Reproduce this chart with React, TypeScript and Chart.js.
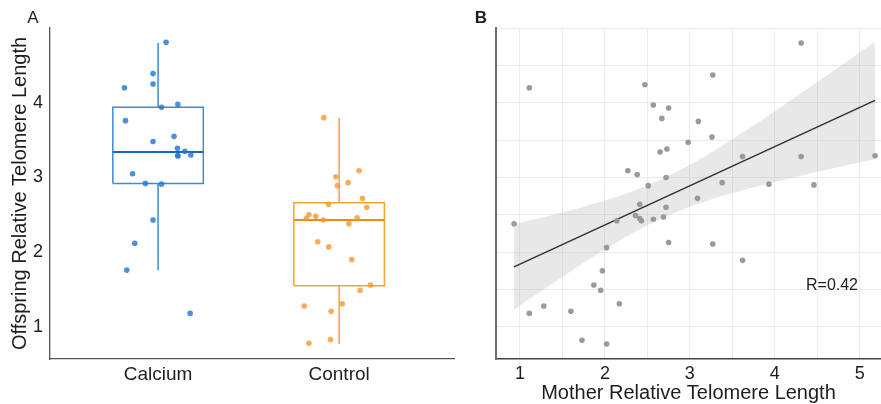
import React, { useEffect, useRef } from 'react';
import { Chart, registerables } from 'chart.js';

Chart.register(...registerables);

// ---------- Panel A data ----------
const GROUP_LABELS = ['Calcium', 'Control'];
const GROUP_POSITIONS = [1, 2];

const CALCIUM_VALUES = [4.81, 4.39, 4.25, 4.2, 3.94, 3.98, 3.76, 3.55, 3.48, 3.39, 3.35, 3.29, 3.29, 3.3, 3.05, 2.92, 2.91, 2.43, 2.12, 1.76, 1.18];
const CALCIUM_JITTER = [0.044, -0.028, -0.028, -0.186, 0.019, 0.109, -0.18, 0.088, -0.028, 0.107, 0.148, 0.109, 0.109, 0.181, -0.141, -0.07, 0.019, -0.028, -0.129, -0.173, 0.177];

const CONTROL_VALUES = [3.8, 3.09, 3.01, 2.93, 2.89, 2.72, 2.64, 2.6, 2.5, 2.48, 2.45, 2.43, 2.46, 2.38, 2.14, 2.07, 1.9, 1.56, 1.49, 1.31, 1.28, 1.21, 0.83, 0.78];
const CONTROL_JITTER = [-0.085, 0.11, -0.018, 0.05, -0.009, 0.129, -0.059, 0.153, -0.167, -0.129, -0.181, -0.087, 0.099, 0.054, -0.118, -0.057, 0.07, 0.173, 0.116, 0.017, -0.193, -0.044, -0.048, -0.167];

const BOX_Q1 = [2.92, 1.55];
const BOX_MEDIAN = [3.34, 2.43];
const BOX_Q3 = [3.94, 2.66];
const WHISKER_LOW = [1.76, 0.77];
const WHISKER_HIGH = [4.8, 3.8];

const Y_TICKS_A = [1, 2, 3, 4];

// ---------- Panel B data ----------
const MOTHER_RTL = [4.31, 3.27, 1.11, 2.47, 2.57, 2.75, 2.67, 3.1, 3.26, 2.98, 2.73, 2.65, 3.62, 4.31, 5.18, 2.27, 2.38, 2.72, 2.51, 3.38, 3.93, 4.46, 3.09, 2.41, 2.72, 2.36, 2.41, 2.43, 2.57, 2.69, 2.14, 0.93, 2.75, 3.27, 2.02, 3.62, 1.97, 1.87, 1.95, 2.17, 1.28, 1.11, 1.6, 1.73, 2.02];
const OFFSPRING_RTL = [4.8, 4.37, 4.2, 4.24, 3.97, 3.93, 3.79, 3.75, 3.54, 3.47, 3.38, 3.34, 3.28, 3.28, 3.29, 3.09, 3.04, 3.0, 2.89, 2.93, 2.91, 2.9, 2.72, 2.64, 2.6, 2.49, 2.45, 2.42, 2.44, 2.47, 2.42, 2.38, 2.13, 2.11, 2.06, 1.89, 1.75, 1.56, 1.49, 1.31, 1.28, 1.18, 1.21, 0.82, 0.77];

const X_TICKS_B = [1, 1.5, 2, 2.5, 3, 3.5, 4, 4.5, 5];
const Y_GRID_B = [1, 1.5, 2, 2.5, 3, 3.5, 4, 4.5, 5];
const R_LABEL = 'R=0.42';

// ---------- styles ----------
const FONT = "'Liberation Sans', Arial, sans-serif";
const TEXT = '#1e1e1e';
const BOX_HALF = 0.25;
const BLUE_PT = 'rgba(38, 120, 210, 0.82)';
const BLUE_BOX = '#3a8ad8';
const BLUE_MED = '#1a66c4';
const ORANGE_PT = 'rgba(246, 152, 48, 0.8)';
const ORANGE_BOX = '#f7a038';
const ORANGE_MED = '#f08a12';

function lineDs(points: { x: number; y: number }[], color: string, width: number) {
  return {
    type: 'line' as const,
    data: points,
    borderColor: color,
    borderWidth: width,
    pointRadius: 0,
    fill: false,
    tension: 0,
  };
}

function boxDatasets(g: number, boxColor: string, medColor: string) {
  const c = GROUP_POSITIONS[g];
  const l = c - BOX_HALF;
  const r = c + BOX_HALF;
  return [
    lineDs([{ x: l, y: BOX_MEDIAN[g] }, { x: r, y: BOX_MEDIAN[g] }], medColor, 2),
    lineDs(
      [
        { x: l, y: BOX_Q1[g] },
        { x: r, y: BOX_Q1[g] },
        { x: r, y: BOX_Q3[g] },
        { x: l, y: BOX_Q3[g] },
        { x: l, y: BOX_Q1[g] },
      ],
      boxColor,
      1.5
    ),
    lineDs([{ x: c, y: BOX_Q3[g] }, { x: c, y: WHISKER_HIGH[g] }], boxColor, 1.5),
    lineDs([{ x: c, y: BOX_Q1[g] }, { x: c, y: WHISKER_LOW[g] }], boxColor, 1.5),
  ];
}

function regression(xs: number[], ys: number[]) {
  const n = xs.length;
  const mx = xs.reduce((a, b) => a + b, 0) / n;
  const my = ys.reduce((a, b) => a + b, 0) / n;
  let sxx = 0;
  let sxy = 0;
  for (let i = 0; i < n; i++) {
    sxx += (xs[i] - mx) ** 2;
    sxy += (xs[i] - mx) * (ys[i] - my);
  }
  const slope = sxy / sxx;
  const intercept = my - slope * mx;
  let sse = 0;
  for (let i = 0; i < n; i++) sse += (ys[i] - (intercept + slope * xs[i])) ** 2;
  const s = Math.sqrt(sse / (n - 2));
  return { slope, intercept, s, mx, sxx, n };
}

export default function App() {
  const refA = useRef<HTMLCanvasElement>(null);
  const refB = useRef<HTMLCanvasElement>(null);

  useEffect(() => {
    const tickFont = { family: FONT, size: 18 };

    const chartA = new Chart(refA.current!, {
      type: 'scatter',
      data: {
        datasets: [
          {
            data: CALCIUM_VALUES.map((v, i) => ({ x: GROUP_POSITIONS[0] + CALCIUM_JITTER[i], y: v })),
            backgroundColor: BLUE_PT,
            borderWidth: 0,
            pointRadius: 2.8,
          },
          {
            data: CONTROL_VALUES.map((v, i) => ({ x: GROUP_POSITIONS[1] + CONTROL_JITTER[i], y: v })),
            backgroundColor: ORANGE_PT,
            borderWidth: 0,
            pointRadius: 2.8,
          },
          ...boxDatasets(0, BLUE_BOX, BLUE_MED),
          ...boxDatasets(1, ORANGE_BOX, ORANGE_MED),
        ] as any,
      },
      options: {
        animation: false,
        responsive: false,
        devicePixelRatio: 1,
        layout: { autoPadding: false, padding: { top: 28, right: 0, bottom: 0, left: 0 } },
        plugins: { legend: { display: false }, tooltip: { enabled: false } },
        scales: {
          x: {
            type: 'linear',
            min: 0.403,
            max: 2.64,
            afterBuildTicks: (s: any) => {
              s.ticks = GROUP_POSITIONS.map((v) => ({ value: v }));
            },
            afterFit: (s: any) => {
              s.height = 45;
            },
            ticks: {
              font: { family: FONT, size: 19 },
              color: TEXT,
              padding: 4,
              maxRotation: 0,
              autoSkip: false,
              callback: (v: any) => {
                const i = GROUP_POSITIONS.indexOf(Number(v));
                return i >= 0 ? GROUP_LABELS[i] : '';
              },
            },
            grid: { display: false, drawTicks: false },
            border: { display: true, color: '#555', width: 1.3 },
          },
          y: {
            type: 'linear',
            min: 0.57,
            max: 5.0,
            afterBuildTicks: (s: any) => {
              s.ticks = Y_TICKS_A.map((v) => ({ value: v }));
            },
            afterFit: (s: any) => {
              s.width = 50;
            },
            ticks: { font: tickFont, color: TEXT, padding: 7 },
            grid: { display: false, drawTicks: false },
            border: { display: true, color: '#555', width: 1.3 },
            title: {
              display: true,
              text: 'Offspring Relative Telomere Length',
              font: { family: FONT, size: 20 },
              color: TEXT,
              padding: { top: 8, bottom: 0 },
            },
          },
        },
      } as any,
    });

    const reg = regression(MOTHER_RTL, OFFSPRING_RTL);
    const xMin = Math.min(...MOTHER_RTL);
    const xMax = Math.max(...MOTHER_RTL);
    const T_CRIT = 2.017;
    const steps = 60;
    const upper: { x: number; y: number }[] = [];
    const lower: { x: number; y: number }[] = [];
    for (let k = 0; k <= steps; k++) {
      const x = xMin + ((xMax - xMin) * k) / steps;
      const fit = reg.intercept + reg.slope * x;
      const se = reg.s * Math.sqrt(1 / reg.n + (x - reg.mx) ** 2 / reg.sxx);
      upper.push({ x, y: fit + T_CRIT * se });
      lower.push({ x, y: fit - T_CRIT * se });
    }

    const chartB = new Chart(refB.current!, {
      type: 'scatter',
      data: {
        datasets: [
          {
            data: MOTHER_RTL.map((x, i) => ({ x, y: OFFSPRING_RTL[i] })),
            backgroundColor: '#9a9a9a',
            borderWidth: 0,
            pointRadius: 2.8,
          },
          lineDs(
            [
              { x: xMin, y: reg.intercept + reg.slope * xMin },
              { x: xMax, y: reg.intercept + reg.slope * xMax },
            ],
            '#333333',
            1.6
          ),
          {
            type: 'line',
            data: upper,
            borderWidth: 0,
            borderColor: 'rgba(0,0,0,0)',
            pointRadius: 0,
            fill: '+1',
            backgroundColor: 'rgba(185,185,185,0.33)',
          },
          {
            type: 'line',
            data: lower,
            borderWidth: 0,
            borderColor: 'rgba(0,0,0,0)',
            pointRadius: 0,
            fill: false,
          },
        ] as any,
      },
      options: {
        animation: false,
        responsive: false,
        devicePixelRatio: 1,
        layout: { autoPadding: false, padding: { top: 28, right: 0, bottom: 0, left: 0 } },
        plugins: { legend: { display: false }, tooltip: { enabled: false } },
        scales: {
          x: {
            type: 'linear',
            min: 0.718,
            max: 5.25,
            afterBuildTicks: (s: any) => {
              s.ticks = X_TICKS_B.map((v) => ({ value: v }));
            },
            afterFit: (s: any) => {
              s.height = 45;
            },
            ticks: {
              font: tickFont,
              color: TEXT,
              padding: 4,
              maxRotation: 0,
              autoSkip: false,
              callback: (v: any) => (Number.isInteger(Number(v)) ? String(v) : ''),
            },
            grid: { display: true, color: '#ebebeb', lineWidth: 1, drawTicks: false },
            border: { display: true, color: '#444', width: 1.5 },
            title: {
              display: true,
              text: 'Mother Relative Telomere Length',
              font: { family: FONT, size: 20, lineHeight: 1 },
              color: TEXT,
              padding: { top: 0, bottom: 0.5 },
            },
          },
          y: {
            type: 'linear',
            min: 0.57,
            max: 5.0,
            afterBuildTicks: (s: any) => {
              s.ticks = Y_GRID_B.map((v) => ({ value: v }));
            },
            afterFit: (s: any) => {
              s.width = 41;
            },
            ticks: { display: false },
            grid: { display: true, color: '#ebebeb', lineWidth: 1, drawTicks: false },
            border: { display: true, color: '#6e6e6e', width: 2 },
          },
        },
      } as any,
    });

    return () => {
      chartA.destroy();
      chartB.destroy();
    };
  }, []);

  const labelStyle: React.CSSProperties = {
    position: 'absolute',
    transform: 'translate(-50%, -50%)',
    fontFamily: FONT,
    color: TEXT,
    lineHeight: 1,
    whiteSpace: 'nowrap',
  };

  return (
    <div style={{ position: 'fixed', left: 0, top: 0, width: 881, height: 404, background: '#fff' }}>
      <canvas ref={refA} width={455} height={404} style={{ position: 'absolute', left: 0, top: 0 }} />
      <canvas ref={refB} width={426} height={404} style={{ position: 'absolute', left: 455, top: 0 }} />
      <div style={{ ...labelStyle, left: 33, top: 17, fontSize: 17 }}>A</div>
      <div style={{ ...labelStyle, left: 481, top: 17, fontSize: 17, fontWeight: 'bold' }}>B</div>
      <div style={{ ...labelStyle, left: 832, top: 285, fontSize: 16 }}>{R_LABEL}</div>
    </div>
  );
}
